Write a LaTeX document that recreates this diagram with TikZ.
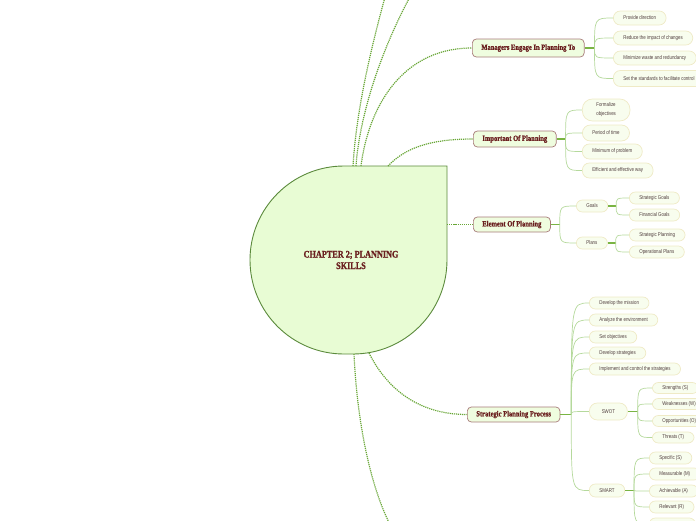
\documentclass[tikz,border=0pt]{standalone}
\usepackage{fontspec}
\usepackage{tikz}
\newfontfamily\topicfont[FakeStretch=0.82,FakeBold=1.2]{Liberation Serif Bold}
\newfontfamily\leaffont[FakeStretch=0.8]{Liberation Sans}
\definecolor{centrefill}{HTML}{E8FCD4}
\definecolor{centreborder}{HTML}{5B8A3C}
\definecolor{linkcolor}{HTML}{68A636}
\definecolor{topicfill}{HTML}{EFFDDF}
\definecolor{topicborder}{HTML}{A77B79}
\definecolor{topictext}{HTML}{6A1F1F}
\definecolor{leaffill}{HTML}{F8FDEE}
\definecolor{leafborder}{HTML}{EFEAC6}
\definecolor{leaftext}{HTML}{4F3D3D}
\definecolor{twigcolor}{HTML}{B5D99C}
\definecolor{stubcolor}{HTML}{7AB443}

\begin{document}
\begin{tikzpicture}[
        x=1pt,
        y=1pt,
        centre/.style={draw=centreborder, fill=centrefill, line width=0.9pt},
        link/.style={linkcolor, line width=1.2pt, dash pattern=on 1.2pt off 0.9pt},
        topic/.style={draw=topicborder, fill=topicfill, line width=0.7pt, rounded corners=4pt,
            anchor=west, minimum height=16pt, inner xsep=9pt, inner ysep=0pt,
            text=topictext, font=\topicfont\fontsize{8}{9}\selectfont},
        leaf/.style={draw=leafborder, fill=leaffill, line width=0.7pt, rounded corners=6pt,
            anchor=west, minimum height=12pt, inner xsep=10pt, inner ysep=0pt,
            text=leaftext, font=\leaffont\fontsize{5.5}{7}\selectfont},
        stub/.style={stubcolor, line width=1.3pt},
        twig/.style={twigcolor, line width=0.7pt,
            to path={.. controls (\tikztostart |- \tikztotarget) .. (\tikztotarget)}}
    ]
        \useasboundingbox (0,0) rectangle (696,-520);
        \clip (0,0) rectangle (696,-520);

        % central topic
        \draw[centre] (447,-166) -- (447,-260)
            arc[start angle=0, end angle=-90, radius=94] -- (344,-354)
            arc[start angle=-90, end angle=-180, radius=94]
            arc[start angle=180, end angle=90, radius=94] -- cycle;
        \node[align=center, text=topictext, font=\topicfont\fontsize{10}{11.5}\selectfont]
            (chapter) at (351,-260) {CHAPTER 2; PLANNING\\SKILLS};

        \coordinate (top-a) at (353,-166);
        \coordinate (top-b) at (356,-166);
        \coordinate (top-c) at (361,-166);
        \coordinate (top-d) at (388,-166);
        \coordinate (side-e) at (447,-224.5);
        \coordinate (bottom-f) at (369,-353);
        \coordinate (bottom-g) at (354,-354);
        \coordinate (away-a) at (388,14);
        \coordinate (away-b) at (416,14);
        \coordinate (away-g) at (394,-532);

        % main topics
        \node[topic, minimum height=18pt] (managers) at (472,-48) {Managers Engage In Planning To};
        \node[topic] (importance) at (473,-139) {Important Of Planning};
        \node[topic, minimum height=15pt] (elements) at (473,-224.5) {Element Of Planning};
        \node[topic, minimum height=15pt] (process) at (467,-414.5) {Strategic Planning Process};

        \draw[link] (top-a) .. controls (357,-100) and (376,-30) .. (away-a);
        \draw[link] (top-b) .. controls (360,-110) and (385,-40) .. (away-b);
        \draw[link] (top-c) .. controls (368,-110) and (400,-48) .. (managers.west);
        \draw[link] (top-d) .. controls (405,-148) and (430,-139) .. (importance.west);
        \draw[link] (side-e) -- (elements.west);
        \draw[link] (bottom-f) .. controls (385,-385) and (415,-414.5) .. (process.west);
        \draw[link] (bottom-g) .. controls (357,-420) and (370,-490) .. (away-g);

        % managers engage in planning to
        \node[leaf, minimum height=14pt, rounded corners=7pt] (direction) at (613,-18) {Provide direction};
        \node[leaf, minimum height=14pt, rounded corners=7pt] (changes) at (613,-38) {Reduce the impact of changes};
        \node[leaf, minimum height=14pt, rounded corners=7pt] (waste) at (613,-58) {Minimize waste and redundancy};
        \node[leaf, minimum height=16pt, rounded corners=7pt] (standards) at (613,-78.5) {Set the standards to facilitate control};
        \draw[stub] (managers.east) -- ++(10,0) coordinate (managers-fork);
        \draw[twig] (managers-fork) to (direction.west);
        \draw[twig] (managers-fork) to (changes.west);
        \draw[twig] (managers-fork) to (waste.west);
        \draw[twig] (managers-fork) to (standards.west);

        % important of planning
        \node[leaf, minimum height=22pt, rounded corners=10pt, align=left, inner xsep=14pt,
            font=\leaffont\fontsize{5.5}{9}\selectfont] (formalize) at (582,-110) {Formalize\\objectives};
        \node[leaf, minimum height=16pt, rounded corners=8pt] (period) at (582,-133) {Period of time};
        \node[leaf, minimum height=15pt, rounded corners=7pt] (minimum) at (582,-151.5) {Minimum of problem};
        \node[leaf, minimum height=15pt, rounded corners=7pt] (efficient) at (582,-170.5) {Efficient and effective way};
        \draw[stub] (importance.east) -- ++(9,0) coordinate (importance-fork);
        \draw[twig] (importance-fork) to (formalize.west);
        \draw[twig] (importance-fork) to (period.west);
        \draw[twig] (importance-fork) to (minimum.west);
        \draw[twig] (importance-fork) to (efficient.west);

        % element of planning
        \node[leaf] (goals) at (576,-206) {Goals};
        \node[leaf] (plans) at (576,-243) {Plans};
        \node[leaf] (strategicgoals) at (629,-198) {Strategic Goals};
        \node[leaf] (financialgoals) at (629,-215) {Financial Goals};
        \node[leaf] (strategicplans) at (629,-235) {Strategic Planning};
        \node[leaf] (operationalplans) at (629,-252) {Operational Plans};
        \draw[stub] (elements.east) -- ++(9,0) coordinate (elements-fork);
        \draw[twig] (elements-fork) to (goals.west);
        \draw[twig] (elements-fork) to (plans.west);
        \draw[stub] (goals.east) -- ++(8,0) coordinate (goals-fork);
        \draw[twig] (goals-fork) to (strategicgoals.west);
        \draw[twig] (goals-fork) to (financialgoals.west);
        \draw[stub] (plans.east) -- ++(8,0) coordinate (plans-fork);
        \draw[twig] (plans-fork) to (strategicplans.west);
        \draw[twig] (plans-fork) to (operationalplans.west);

        % strategic planning process
        \node[leaf] (mission) at (589,-303) {Develop the mission};
        \node[leaf] (environment) at (589,-320) {Analyze the environment};
        \node[leaf] (objectives) at (589,-337) {Set objectives};
        \node[leaf] (strategies) at (589,-353) {Develop strategies};
        \node[leaf] (implement) at (589,-369) {Implement and control the strategies};
        \node[leaf, minimum height=17pt, minimum width=38pt, rounded corners=8pt] (swot) at (589,-411.5) {SWOT};
        \node[leaf, minimum height=13pt, minimum width=35pt] (smart) at (589,-490.5) {SMART};
        \draw[stub] (process.east) -- ++(11,0) coordinate (process-fork);
        \draw[twig] (process-fork) to (mission.west);
        \draw[twig] (process-fork) to (environment.west);
        \draw[twig] (process-fork) to (objectives.west);
        \draw[twig] (process-fork) to (strategies.west);
        \draw[twig] (process-fork) to (implement.west);
        \draw[twig] (process-fork) to (swot.west);
        \draw[twig] (process-fork) to (smart.west);

        \node[leaf, minimum height=11pt] (strengths) at (652,-388) {Strengths (S)};
        \node[leaf, minimum height=11pt] (weaknesses) at (652,-404) {Weaknesses (W)};
        \node[leaf, minimum height=11pt] (opportunities) at (652,-421) {Opportunities (O)};
        \node[leaf, minimum height=11pt] (threats) at (652,-437.5) {Threats (T)};
        \draw[stub] (swot.east) -- ++(10,0) coordinate (swot-fork);
        \draw[twig] (swot-fork) to (strengths.west);
        \draw[twig] (swot-fork) to (weaknesses.west);
        \draw[twig] (swot-fork) to (opportunities.west);
        \draw[twig] (swot-fork) to (threats.west);

        \node[leaf] (specific) at (649,-458) {Specific (S)};
        \node[leaf] (measurable) at (649,-474) {Measurable (M)};
        \node[leaf] (achievable) at (649,-491) {Achievable (A)};
        \node[leaf] (relevant) at (649,-507) {Relevant (R)};
        \node[leaf, minimum width=46pt] (timebound) at (649,-524) {};
        \draw[stub] (smart.east) -- ++(9,0) coordinate (smart-fork);
        \draw[twig] (smart-fork) to (specific.west);
        \draw[twig] (smart-fork) to (measurable.west);
        \draw[twig] (smart-fork) to (achievable.west);
        \draw[twig] (smart-fork) to (relevant.west);
        \draw[twig] (smart-fork) to (timebound.west);
    \end{tikzpicture}
\end{document}
